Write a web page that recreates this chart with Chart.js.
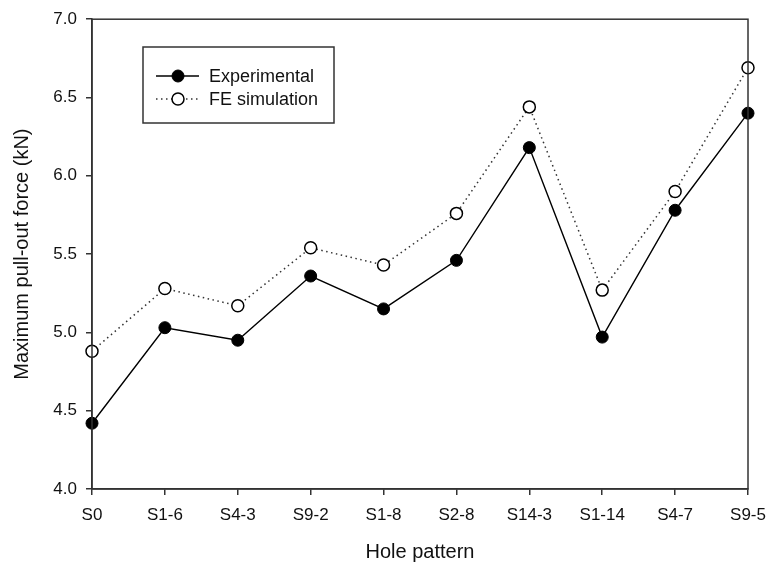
<!DOCTYPE html>
<html>
<head>
<meta charset="utf-8">
<script src="https://cdn.jsdelivr.net/npm/chart.js@4.4.1/dist/chart.umd.min.js"></script>
<style>
  html, body { margin: 0; padding: 0; background: #fff; }
  #wrap { width: 769px; height: 568px; position: relative; }
</style>
</head>
<body>
<div id="wrap"><canvas id="pullChart"></canvas></div>
<script>
// --- data ---
const holePatterns = ['S0', 'S1-6', 'S4-3', 'S9-2', 'S1-8', 'S2-8', 'S14-3', 'S1-14', 'S4-7', 'S9-5'];
const experimental = [4.42, 5.03, 4.95, 5.36, 5.15, 5.46, 6.18, 4.97, 5.78, 6.40];
const feSimulation = [4.88, 5.28, 5.17, 5.54, 5.43, 5.76, 6.44, 5.27, 5.90, 6.69];
const yTicks = [4.0, 4.5, 5.0, 5.5, 6.0, 6.5, 7.0];

const FONT = 'Liberation Sans, Arial, Helvetica, sans-serif';
const INK = '#111';
const AXIS = '#333';

// frame round the plot area (top and right sides too)
const framePlugin = {
    id: 'frame',
    afterDraw(chart) {
        const { ctx, chartArea: a } = chart;
        ctx.save();
        ctx.strokeStyle = AXIS;
        ctx.lineWidth = 1.5;
        ctx.strokeRect(a.left, a.top, a.right - a.left, a.bottom - a.top);
        ctx.restore();
    }
};

// legend box in the upper left: line sample + marker + label
const boxLegend = {
    id: 'boxLegend',
    afterDraw(chart) {
        const ctx = chart.ctx;
        const box = { x: 143, y: 47, w: 191, h: 76 };
        ctx.save();
        ctx.fillStyle = '#fff';
        ctx.fillRect(box.x, box.y, box.w, box.h);
        ctx.strokeStyle = AXIS;
        ctx.lineWidth = 1.5;
        ctx.strokeRect(box.x, box.y, box.w, box.h);

        const rows = [76, 99];
        chart.data.datasets.forEach((ds, i) => {
            const y = rows[i];
            ctx.strokeStyle = ds.borderColor;
            ctx.lineWidth = ds.borderWidth;
            ctx.setLineDash(ds.borderDash || []);
            ctx.beginPath();
            ctx.moveTo(156, y);
            ctx.lineTo(199, y);
            ctx.stroke();
            ctx.setLineDash([]);

            ctx.beginPath();
            ctx.arc(178, y, ds.pointRadius, 0, Math.PI * 2);
            ctx.fillStyle = ds.pointBackgroundColor;
            ctx.fill();
            ctx.lineWidth = ds.pointBorderWidth;
            ctx.strokeStyle = ds.pointBorderColor;
            ctx.stroke();

            ctx.fillStyle = INK;
            ctx.font = '18px ' + FONT;
            ctx.textBaseline = 'middle';
            ctx.textAlign = 'left';
            ctx.fillText(ds.label, 209, y + 1);
        });
        ctx.restore();
    }
};

const ctx = document.getElementById('pullChart');
new Chart(ctx, {
    type: 'line',
    data: {
        labels: holePatterns,
        datasets: [
            {
                label: 'Experimental',
                data: experimental,
                borderColor: '#000',
                borderWidth: 1.4,
                pointRadius: 6,
                pointBackgroundColor: '#000',
                pointBorderColor: '#000',
                pointBorderWidth: 1,
                tension: 0
            },
            {
                label: 'FE simulation',
                data: feSimulation,
                borderColor: '#333',
                borderWidth: 1.5,
                borderDash: [1.5, 3.5],
                pointRadius: 6,
                pointBackgroundColor: '#fff',
                pointBorderColor: '#000',
                pointBorderWidth: 1.5,
                tension: 0
            }
        ]
    },
    options: {
        responsive: true,
        maintainAspectRatio: false,
        animation: false,
        layout: { padding: { top: 17, right: 21, left: 0, bottom: 0 } },
        plugins: {
            legend: { display: false },
            tooltip: { enabled: false }
        },
        scales: {
            x: {
                type: 'category',
                offset: false,
                afterFit: s => { s.height = 79; s.paddingLeft = 0; s.paddingRight = 0; },
                grid: { display: true, drawOnChartArea: false, drawTicks: true, tickLength: 6, color: AXIS, lineWidth: 1.5 },
                border: { display: true, color: AXIS, width: 1.5 },
                ticks: { color: INK, font: { family: FONT, size: 17 }, padding: 10, maxRotation: 0, autoSkip: false },
                title: { display: true, text: 'Hole pattern', color: INK, font: { family: FONT, size: 20 }, padding: { top: 4, bottom: 4 } }
            },
            y: {
                min: 4,
                max: 7,
                afterFit: s => { s.width = 92; },
                afterBuildTicks: s => { s.ticks = yTicks.map(v => ({ value: v })); },
                grid: { display: true, drawOnChartArea: false, drawTicks: true, tickLength: 6, color: AXIS, lineWidth: 1.5 },
                border: { display: true, color: AXIS, width: 1.5 },
                ticks: { color: INK, font: { family: FONT, size: 17 }, padding: 9, callback: v => Number(v).toFixed(1) },
                title: { display: true, text: 'Maximum pull-out force (kN)', color: INK, font: { family: FONT, size: 20 }, padding: { top: 10, bottom: 10 } }
            }
        }
    },
    plugins: [framePlugin, boxLegend]
});
</script>
</body>
</html>
